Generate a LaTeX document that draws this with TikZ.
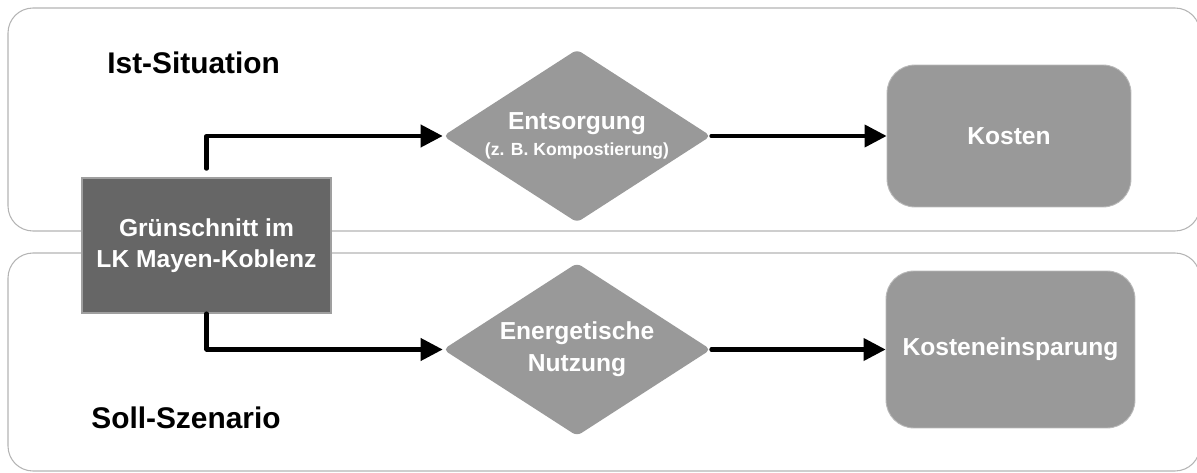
\documentclass[tikz,border=0pt]{standalone}
\usepackage{fontspec}
\setmainfont{Liberation Sans}
\usepackage{tikz}
\usetikzlibrary{shapes.geometric}
\usetikzlibrary{arrows.meta}
\definecolor{panelgray}{HTML}{B4B4B4}
\definecolor{darkbox}{HTML}{666666}
\definecolor{lightbox}{HTML}{999999}
\tikzset{
	panelstyle/.style={draw=panelgray,line width=0.6pt,fill=white,rounded corners=0.5cm},
	titlestyle/.style={inner sep=0pt,anchor=base west,font=\fontsize{17}{20}\selectfont\bfseries},
	sourcestyle/.style={rectangle,draw=gray!75,line width=0.6pt,fill=darkbox,text=white,align=center,inner sep=0pt,font=\fontsize{14}{18}\selectfont\bfseries},
	decisionstyle/.style={diamond,aspect=1.54,rounded corners=3pt,fill=lightbox,text=white,align=center,inner sep=0pt,minimum width=5.36cm,minimum height=3.46cm,font=\fontsize{14}{18}\selectfont\bfseries},
	resultstyle/.style={rectangle,rounded corners=0.56cm,draw=gray!55,line width=0.5pt,fill=lightbox,text=white,align=center,inner sep=0pt,font=\fontsize{14}{18}\selectfont\bfseries},
	flowline/.style={line width=2.3pt,line cap=round,line join=round,-{Triangle[length=0.44cm,width=0.44cm]}}
}
\begin{document}
\begin{tikzpicture}[x=0.02cm,y=-0.02cm]
		\useasboundingbox (0,0) rectangle (1197,473);
		% panels
		\draw[panelstyle] (8,8) rectangle (1200,231);
		\draw[panelstyle] (8,253) rectangle (1200,471);
		\node[titlestyle] (ist) at (107,74) {Ist-Situation};
		\node[titlestyle] (soll) at (91,428) {Soll-Szenario};
		% nodes
		\node[sourcestyle,minimum width=4.98cm,minimum height=2.7cm] (gruen) at (206.5,245.5) {Grünschnitt im\\LK Mayen-Koblenz};
		\node[decisionstyle] (entsorg) at (577,136) {Entsorgung\\[-3pt]{\fontsize{10}{12}\selectfont(z. B. Kompostierung)}};
		\node[decisionstyle] (energie) at (577,349.5) {Energetische\\Nutzung};
		\node[resultstyle,minimum width=4.88cm,minimum height=2.84cm] (kosten) at (1009,136) {Kosten};
		\node[resultstyle,minimum width=4.98cm,minimum height=3.14cm] (einspar) at (1010.5,349.5) {Kosteneinsparung};
		% connectors
		\draw[flowline,shorten <=5pt] (gruen.north) |- (entsorg.west);
		\draw[flowline] (gruen.south) |- (energie.west);
		\draw[flowline] (entsorg.east) -- (kosten.west);
		\draw[flowline] (energie.east) -- (einspar.west);
		\end{tikzpicture}
\end{document}
